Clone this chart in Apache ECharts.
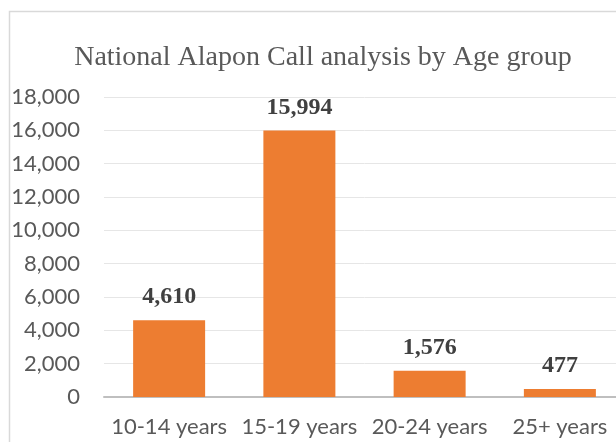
<!DOCTYPE html>
<html><head><meta charset="utf-8">
<script src="https://cdn.jsdelivr.net/npm/echarts@6/dist/echarts.min.js"></script>
<style>html,body{margin:0;padding:0;background:#fff;overflow:hidden;width:616px;height:442px}#c{width:625px;height:442px}</style>
</head><body><div id="c"></div>
<script>
const categories = ['10-14 years', '15-19 years', '20-24 years', '25+ years'];
const values = [4610, 15994, 1576, 477];
const titleText = 'National Alapon Call analysis by Age group';

const chart = echarts.init(document.getElementById('c'));
chart.setOption({
  animation: false,
  graphic: [{
    type: 'rect', left: 7, top: 9,
    shape: { width: 640, height: 460 },
    style: { fill: 'none', stroke: '#d9d9d9', lineWidth: 1.5 }
  }],
  title: {
    text: titleText, left: 318, top: 39, textAlign: 'center',
    textStyle: { fontFamily: 'Liberation Serif', fontSize: 28, fontWeight: 'normal', color: '#595959' }
  },
  grid: { left: 104, right: 0, top: 97, height: 300, containLabel: false },
  xAxis: {
    type: 'category', data: categories,
    axisLine: { lineStyle: { color: '#bfbfbf', width: 2 } },
    axisTick: { show: false },
    axisLabel: { interval: 0, fontFamily: 'Lato', fontSize: 22, color: '#595959', margin: 19 }
  },
  yAxis: {
    type: 'value', min: 0, max: 18000, interval: 2000,
    axisLine: { show: false }, axisTick: { show: false },
    splitLine: { lineStyle: { color: '#e6e6e6', width: 1 } },
    axisLabel: {
      fontFamily: 'Lato', fontSize: 22, color: '#595959', margin: 24,
      formatter: v => v.toLocaleString('en-US')
    }
  },
  series: [{
    type: 'bar', data: values, barWidth: 72,
    itemStyle: { color: '#ed7d31' },
    label: {
      show: true, position: 'top', distance: 11,
      fontFamily: 'Liberation Serif', fontWeight: 'bold', fontSize: 24, color: '#404040',
      formatter: p => p.value.toLocaleString('en-US')
    }
  }]
});
</script></body></html>
